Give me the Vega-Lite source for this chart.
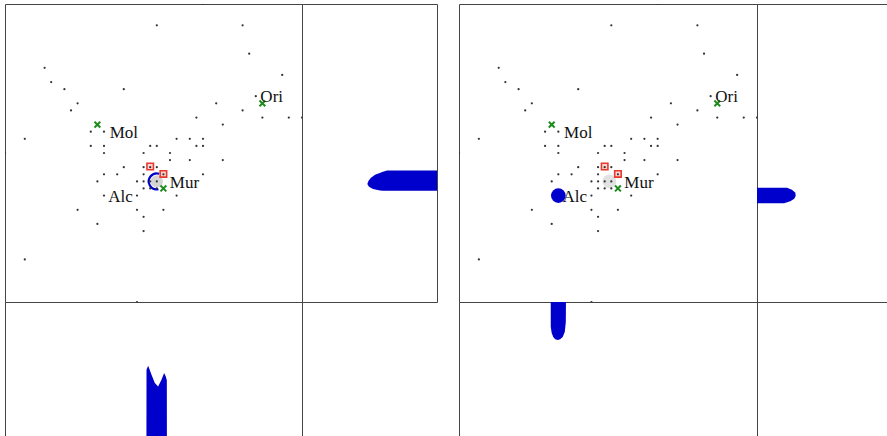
{
  "$schema": "https://vega.github.io/schema/vega-lite/v6.json",
  "padding": {"left": 4, "top": 3, "right": 0, "bottom": 0},
  "background": "white",
  "config": {"view": {"stroke": "#444", "strokeWidth": 1}},
  "datasets": {
    "dots": [
      {"x":30,"y":42},
      {"x":23,"y":39},{"x":36,"y":39},
      {"x":37,"y":35},
      {"x":6,"y":33},
      {"x":42,"y":32},
      {"x":7,"y":31},
      {"x":9,"y":30},{"x":18,"y":30},
      {"x":38,"y":29},
      {"x":11,"y":28},{"x":32,"y":28},
      {"x":10,"y":27},{"x":36,"y":27},
      {"x":29,"y":26},{"x":39,"y":26},{"x":43,"y":26},{"x":45,"y":26},
      {"x":33,"y":25},
      {"x":13,"y":24},{"x":15,"y":24},
      {"x":3,"y":23},{"x":26,"y":23},{"x":28,"y":23},{"x":30,"y":23},
      {"x":13,"y":22},{"x":15,"y":22},{"x":22,"y":22},{"x":23,"y":22},{"x":29,"y":22},{"x":30,"y":22},
      {"x":0,"y":21},{"x":15,"y":21},{"x":21,"y":21},{"x":25,"y":21},
      {"x":25,"y":20},{"x":28,"y":20},{"x":33,"y":20},
      {"x":18,"y":19},{"x":21,"y":19},{"x":22,"y":19},{"x":23,"y":19},
      {"x":15,"y":18},{"x":17,"y":18},{"x":21,"y":18},{"x":24,"y":18},{"x":30,"y":18},
      {"x":14,"y":17},{"x":20,"y":17},{"x":21,"y":17},{"x":22,"y":17},{"x":23,"y":17},
      {"x":21,"y":16},{"x":22,"y":16},{"x":23,"y":16},
      {"x":15,"y":15},{"x":20,"y":15},{"x":26,"y":15},
      {"x":11,"y":13},{"x":20,"y":13},{"x":24,"y":13},
      {"x":21,"y":12},
      {"x":14,"y":11},
      {"x":21,"y":10},
      {"x":3,"y":6},
      {"x":20,"y":0}
    ],
    "crosses": [{"x":14,"y":25},{"x":39,"y":28},{"x":24,"y":16}],
    "squares": [{"x":22,"y":19.1},{"x":24,"y":18.05}],
    "labels": [
      {"x":15.86,"y":23.11,"t":"Mol"},
      {"x":38.69,"y":28.13,"t":"Ori"},
      {"x":24.97,"y":16.06,"t":"Mur"},
      {"x":15.64,"y":14.09,"t":"Alc"}
    ],
    "rmL": [
      {"y":18.55,"d":0},{"y":18.54,"d":3.70},{"y":18.36,"d":4.0},{"y":17.94,"d":4.59},{"y":17.51,"d":4.89},
      {"y":17.09,"d":5.07},{"y":16.63,"d":5.16},{"y":16.25,"d":5.04},{"y":15.92,"d":4.74},{"y":15.72,"d":4.22},
      {"y":15.68,"d":4.0},{"y":15.67,"d":0}
    ],
    "bmL": [
      {"x":21.43,"d":0},{"x":21.44,"d":4.99},{"x":21.69,"d":5.28},{"x":21.95,"d":4.95},{"x":22.2,"d":4.61},
      {"x":22.7,"d":4.0},{"x":23.2,"d":3.75},{"x":23.71,"d":4.24},{"x":24.11,"d":4.74},{"x":24.36,"d":4.49},
      {"x":24.52,"d":4.2},{"x":24.53,"d":0}
    ],
    "rmR": [
      {"y":16.12,"d":0},{"y":16.11,"d":2.22},{"y":15.82,"d":2.59},{"y":15.4,"d":2.84},{"y":14.98,"d":2.87},
      {"y":14.55,"d":2.76},{"y":14.2,"d":2.47},{"y":13.92,"d":2.0},{"y":13.91,"d":0}
    ],
    "bmR": [
      {"x":13.85,"d":0},{"x":13.86,"d":1.85},{"x":14.0,"d":2.30},{"x":14.23,"d":2.59},{"x":14.53,"d":2.76},
      {"x":14.91,"d":2.81},{"x":15.28,"d":2.76},{"x":15.66,"d":2.59},{"x":15.97,"d":2.22},{"x":16.13,"d":1.48},
      {"x":16.15,"d":0}
    ],
    "grayL": [{"x":23,"y":17}],
    "arcL": [{"x":23,"y":17}],
    "grayR": [{"x":22.7,"y":17}],
    "blueR": [{"x":15,"y":15}]
  },
  "columns": 5,
  "spacing": 0,
  "bounds": "flush",
  "concat": [
    {
      "width": 297, "height": 298,
      "layer": [
        {"data": {"name": "grayL"}, "mark": {"type": "point", "shape": "circle", "filled": true, "color": "#d4d4d4", "size": 150, "opacity": 1},
         "encoding": {"x": {"field": "x", "type": "quantitative", "scale": {"domain": [0, 45], "nice": false, "zero": false}, "axis": null},
                      "y": {"field": "y", "type": "quantitative", "scale": {"domain": [0, 42], "nice": false, "zero": false}, "axis": null}}},
        {"data": {"name": "arcL"}, "mark": {"type": "point", "shape": "M0.3,-0.95 A1,1 0 1,0 0.2,0.98", "filled": false, "stroke": "#0000cc", "strokeWidth": 2.2, "size": 256, "opacity": 1},
         "encoding": {"x": {"field": "x", "type": "quantitative", "scale": {"domain": [0, 45], "nice": false, "zero": false}, "axis": null},
                      "y": {"field": "y", "type": "quantitative", "scale": {"domain": [0, 42], "nice": false, "zero": false}, "axis": null}}},
        {"data": {"name": "squares"}, "mark": {"type": "square", "size": 42, "fill": "#fbd3d0", "stroke": "#e8392f", "strokeWidth": 1.6, "opacity": 1},
         "encoding": {"x": {"field": "x", "type": "quantitative", "scale": {"domain": [0, 45], "nice": false, "zero": false}, "axis": null},
                      "y": {"field": "y", "type": "quantitative", "scale": {"domain": [0, 42], "nice": false, "zero": false}, "axis": null}}},
        {"data": {"name": "dots"}, "mark": {"type": "circle", "size": 5, "color": "#333", "opacity": 1, "clip": true},
         "encoding": {"x": {"field": "x", "type": "quantitative", "scale": {"domain": [0, 45], "nice": false, "zero": false}, "axis": null},
                      "y": {"field": "y", "type": "quantitative", "scale": {"domain": [0, 42], "nice": false, "zero": false}, "axis": null}}},
        {"data": {"name": "crosses"}, "mark": {"type": "point", "shape": "M-1,-1L1,1M-1,1L1,-1", "filled": false, "stroke": "#1e8c1e", "strokeWidth": 2, "size": 34, "opacity": 1},
         "encoding": {"x": {"field": "x", "type": "quantitative", "scale": {"domain": [0, 45], "nice": false, "zero": false}, "axis": null},
                      "y": {"field": "y", "type": "quantitative", "scale": {"domain": [0, 42], "nice": false, "zero": false}, "axis": null}}},
        {"data": {"name": "labels"}, "mark": {"type": "text", "align": "left", "baseline": "alphabetic", "font": "Liberation Serif", "fontSize": 17, "color": "#111"},
         "encoding": {"x": {"field": "x", "type": "quantitative", "scale": {"domain": [0, 45], "nice": false, "zero": false}, "axis": null},
                      "y": {"field": "y", "type": "quantitative", "scale": {"domain": [0, 42], "nice": false, "zero": false}, "axis": null},
                      "text": {"field": "t"}}}
      ]
    },
    {
      "width": 135, "height": 298,
      "data": {"name": "rmL"},
      "mark": {"type": "area", "orient": "horizontal", "color": "#0000cc", "opacity": 1},
      "encoding": {
        "y": {"field": "y", "type": "quantitative", "scale": {"domain": [0, 42], "nice": false, "zero": false}, "axis": null},
        "x": {"field": "d", "type": "quantitative", "scale": {"domain": [0, 10], "nice": false, "reverse": true}, "axis": null}
      }
    },
    {
      "width": 22, "height": 298, "view": {"stroke": null},
      "data": {"values": []}, "mark": "point"
    },
    {
      "width": 298, "height": 298,
      "layer": [
        {"data": {"name": "grayR"}, "mark": {"type": "point", "shape": "circle", "filled": true, "color": "#e2e2e2", "size": 190, "opacity": 1},
         "encoding": {"x": {"field": "x", "type": "quantitative", "scale": {"domain": [0, 45], "nice": false, "zero": false}, "axis": null},
                      "y": {"field": "y", "type": "quantitative", "scale": {"domain": [0, 42], "nice": false, "zero": false}, "axis": null}}},
        {"data": {"name": "squares"}, "mark": {"type": "square", "size": 42, "fill": "#fbd3d0", "stroke": "#e8392f", "strokeWidth": 1.6, "opacity": 1},
         "encoding": {"x": {"field": "x", "type": "quantitative", "scale": {"domain": [0, 45], "nice": false, "zero": false}, "axis": null},
                      "y": {"field": "y", "type": "quantitative", "scale": {"domain": [0, 42], "nice": false, "zero": false}, "axis": null}}},
        {"data": {"name": "dots"}, "mark": {"type": "circle", "size": 5, "color": "#333", "opacity": 1, "clip": true},
         "encoding": {"x": {"field": "x", "type": "quantitative", "scale": {"domain": [0, 45], "nice": false, "zero": false}, "axis": null},
                      "y": {"field": "y", "type": "quantitative", "scale": {"domain": [0, 42], "nice": false, "zero": false}, "axis": null}}},
        {"data": {"name": "crosses"}, "mark": {"type": "point", "shape": "M-1,-1L1,1M-1,1L1,-1", "filled": false, "stroke": "#1e8c1e", "strokeWidth": 2, "size": 34, "opacity": 1},
         "encoding": {"x": {"field": "x", "type": "quantitative", "scale": {"domain": [0, 45], "nice": false, "zero": false}, "axis": null},
                      "y": {"field": "y", "type": "quantitative", "scale": {"domain": [0, 42], "nice": false, "zero": false}, "axis": null}}},
        {"data": {"name": "labels"}, "mark": {"type": "text", "align": "left", "baseline": "alphabetic", "font": "Liberation Serif", "fontSize": 17, "color": "#111"},
         "encoding": {"x": {"field": "x", "type": "quantitative", "scale": {"domain": [0, 45], "nice": false, "zero": false}, "axis": null},
                      "y": {"field": "y", "type": "quantitative", "scale": {"domain": [0, 42], "nice": false, "zero": false}, "axis": null},
                      "text": {"field": "t"}}},
        {"data": {"name": "blueR"}, "mark": {"type": "point", "shape": "circle", "filled": true, "color": "#0000cc", "size": 216, "opacity": 1},
         "encoding": {"x": {"field": "x", "type": "quantitative", "scale": {"domain": [0, 45], "nice": false, "zero": false}, "axis": null},
                      "y": {"field": "y", "type": "quantitative", "scale": {"domain": [0, 42], "nice": false, "zero": false}, "axis": null}}}
      ]
    },
    {
      "width": 135, "height": 298,
      "data": {"name": "rmR"},
      "mark": {"type": "area", "orient": "horizontal", "color": "#0000cc", "opacity": 1},
      "encoding": {
        "y": {"field": "y", "type": "quantitative", "scale": {"domain": [0, 42], "nice": false, "zero": false}, "axis": null},
        "x": {"field": "d", "type": "quantitative", "scale": {"domain": [0, 10], "nice": false}, "axis": null}
      }
    },
    {
      "width": 297, "height": 135,
      "data": {"name": "bmL"},
      "mark": {"type": "area", "color": "#0000cc", "opacity": 1},
      "encoding": {
        "x": {"field": "x", "type": "quantitative", "scale": {"domain": [0, 45], "nice": false, "zero": false}, "axis": null},
        "y": {"field": "d", "type": "quantitative", "scale": {"domain": [0, 10], "nice": false}, "axis": null}
      }
    },
    {
      "width": 135, "height": 135, "view": {"stroke": null},
      "data": {"values": []}, "mark": "point"
    },
    {
      "width": 22, "height": 135, "view": {"stroke": null},
      "data": {"values": []}, "mark": "point"
    },
    {
      "width": 298, "height": 135,
      "data": {"name": "bmR"},
      "mark": {"type": "area", "color": "#0000cc", "opacity": 1},
      "encoding": {
        "x": {"field": "x", "type": "quantitative", "scale": {"domain": [0, 45], "nice": false, "zero": false}, "axis": null},
        "y": {"field": "d", "type": "quantitative", "scale": {"domain": [0, 10], "nice": false, "reverse": true}, "axis": null}
      }
    },
    {
      "width": 135, "height": 135, "view": {"stroke": null},
      "data": {"values": []}, "mark": "point"
    }
  ]
}
